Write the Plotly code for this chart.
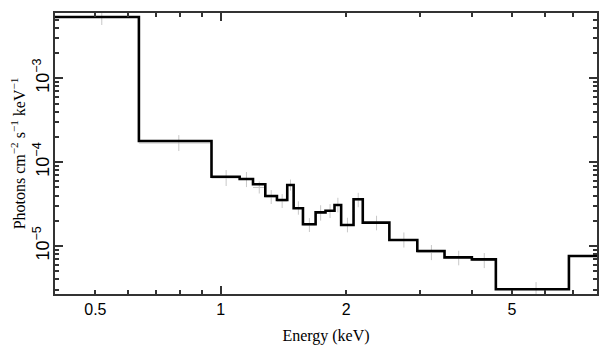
import math
import plotly.graph_objects as go

# Bin edges (keV) and model values (photons cm^-2 s^-1 keV^-1)
bin_edges = [0.40, 0.636, 0.950, 1.110, 1.195, 1.279, 1.364, 1.444, 1.496, 1.575,
             1.689, 1.784, 1.875, 1.945, 2.083, 2.192, 2.539, 2.963, 3.444, 4.006,
             4.574, 6.850, 8.0]
model_vals = [5.38e-3, 1.79e-4, 6.71e-5, 6.30e-5, 5.45e-5, 3.95e-5, 3.54e-5, 5.35e-5,
              2.82e-5, 1.82e-5, 2.52e-5, 2.64e-5, 3.08e-5, 1.78e-5, 3.61e-5, 1.90e-5,
              1.18e-5, 8.72e-6, 7.33e-6, 6.94e-6, 3.05e-6, 7.60e-6]
# Data points (first 21 bins)
data_vals = [5.38e-3, 1.69e-4, 6.47e-5, 6.21e-5, 4.99e-5, 3.84e-5, 3.44e-5, 5.33e-5,
             2.84e-5, 1.78e-5, 2.48e-5, 2.61e-5, 3.08e-5, 1.78e-5, 3.54e-5, 1.88e-5,
             1.18e-5, 8.36e-6, 7.19e-6, 6.71e-6, 3.07e-6]
data_err_dex = [0.095, 0.095, 0.095, 0.09, 0.072, 0.083, 0.083, 0.066, 0.08, 0.083,
                0.092, 0.083, 0.087, 0.087, 0.086, 0.087, 0.09, 0.09, 0.087, 0.09, 0.083]

x_ticks = [0.5, 1, 2, 5]
x_ticktext = ["0.5", "1", "2", "5"]
x_minor = [0.4, 0.6, 0.7, 0.8, 0.9, 3, 4, 6, 7, 8]
y_ticks = [1e-5, 1e-4, 1e-3]
y_ticktext = ["10<sup>−5</sup>", "10<sup>−4</sup>", "10<sup>−3</sup>"]
y_minor = [3e-6, 4e-6, 5e-6, 6e-6, 7e-6, 8e-6, 9e-6,
           2e-5, 3e-5, 4e-5, 5e-5, 6e-5, 7e-5, 8e-5, 9e-5,
           2e-4, 3e-4, 4e-4, 5e-4, 6e-4, 7e-4, 8e-4, 9e-4,
           2e-3, 3e-3, 4e-3, 5e-3, 6e-3]

n = len(data_vals)
xc = [(bin_edges[i] + bin_edges[i + 1]) / 2 for i in range(n)]
xe = [(bin_edges[i + 1] - bin_edges[i]) / 2 for i in range(n)]
ey_up = [v * (10 ** e - 1) for v, e in zip(data_vals, data_err_dex)]
ey_dn = [v * (1 - 10 ** (-e)) for v, e in zip(data_vals, data_err_dex)]

fig = go.Figure()
fig.add_trace(go.Scatter(
    x=xc, y=data_vals, mode="markers", marker=dict(size=1, color="#c8c8c8"),
    error_x=dict(type="data", array=xe, color="#c8c8c8", thickness=1, width=0),
    error_y=dict(type="data", array=ey_up, arrayminus=ey_dn, symmetric=False,
                 color="#c8c8c8", thickness=1, width=0),
    showlegend=False, hoverinfo="skip"))
fig.add_trace(go.Scatter(
    x=bin_edges, y=model_vals + [model_vals[-1]], mode="lines",
    line=dict(shape="hv", color="black", width=2.6), showlegend=False))

xr = [math.log10(0.4), math.log10(8.0)]
yr = [-5.572, -2.221]
axcol = "#333333"
# page body adds an 8px offset, compensated in the margins
fig.update_layout(
    width=609, height=357,
    margin=dict(l=47, r=20, t=5, b=71),
    plot_bgcolor="white", paper_bgcolor="white",
    xaxis=dict(type="log", range=xr, tickmode="array", tickvals=x_ticks, ticktext=x_ticktext,
               ticks="inside", ticklen=4, tickwidth=1.5, tickcolor=axcol, automargin=False,
               minor=dict(tickmode="array", tickvals=x_minor, ticks="inside", ticklen=4,
                          tickwidth=1.5, tickcolor=axcol, showgrid=False),
               showline=True, linecolor=axcol, linewidth=2, mirror="ticks", showgrid=False,
               zeroline=False,
               tickfont=dict(family="Liberation Sans", size=16, color="black"),
               title=dict(text="Energy (keV)", font=dict(family="Liberation Serif", size=16, color="black"),
                          standoff=13)),
    yaxis=dict(type="log", range=yr, tickmode="array", tickvals=y_ticks, ticktext=y_ticktext,
               ticks="inside", ticklen=8, tickwidth=1.5, tickcolor=axcol, tickangle=-90,
               automargin=False, ticklabelstandoff=-3,
               minor=dict(tickmode="array", tickvals=y_minor, ticks="inside", ticklen=4,
                          tickwidth=1.5, tickcolor=axcol, showgrid=False),
               showline=True, linecolor=axcol, linewidth=2, mirror="ticks", showgrid=False,
               zeroline=False,
               tickfont=dict(family="Liberation Sans", size=18, color="black"),
               title=dict(text="Photons cm<sup>−2</sup> s<sup>−1</sup> keV<sup>−1</sup>",
                          font=dict(family="Liberation Serif", size=16, color="black"),
                          standoff=2)),
    xaxis2=dict(type="log", range=xr, overlaying="x", anchor="y", tickmode="array", tickvals=[1],
                ticks="inside", ticklen=8, tickwidth=1.5, tickcolor=axcol, showticklabels=False,
                showline=False, mirror="ticks", showgrid=False, zeroline=False),
)
fig.add_trace(go.Scatter(x=[1], y=[1e-4], xaxis="x2", mode="markers", marker=dict(size=0, opacity=0),
                         showlegend=False, hoverinfo="skip"))
fig.write_html("out.html")
